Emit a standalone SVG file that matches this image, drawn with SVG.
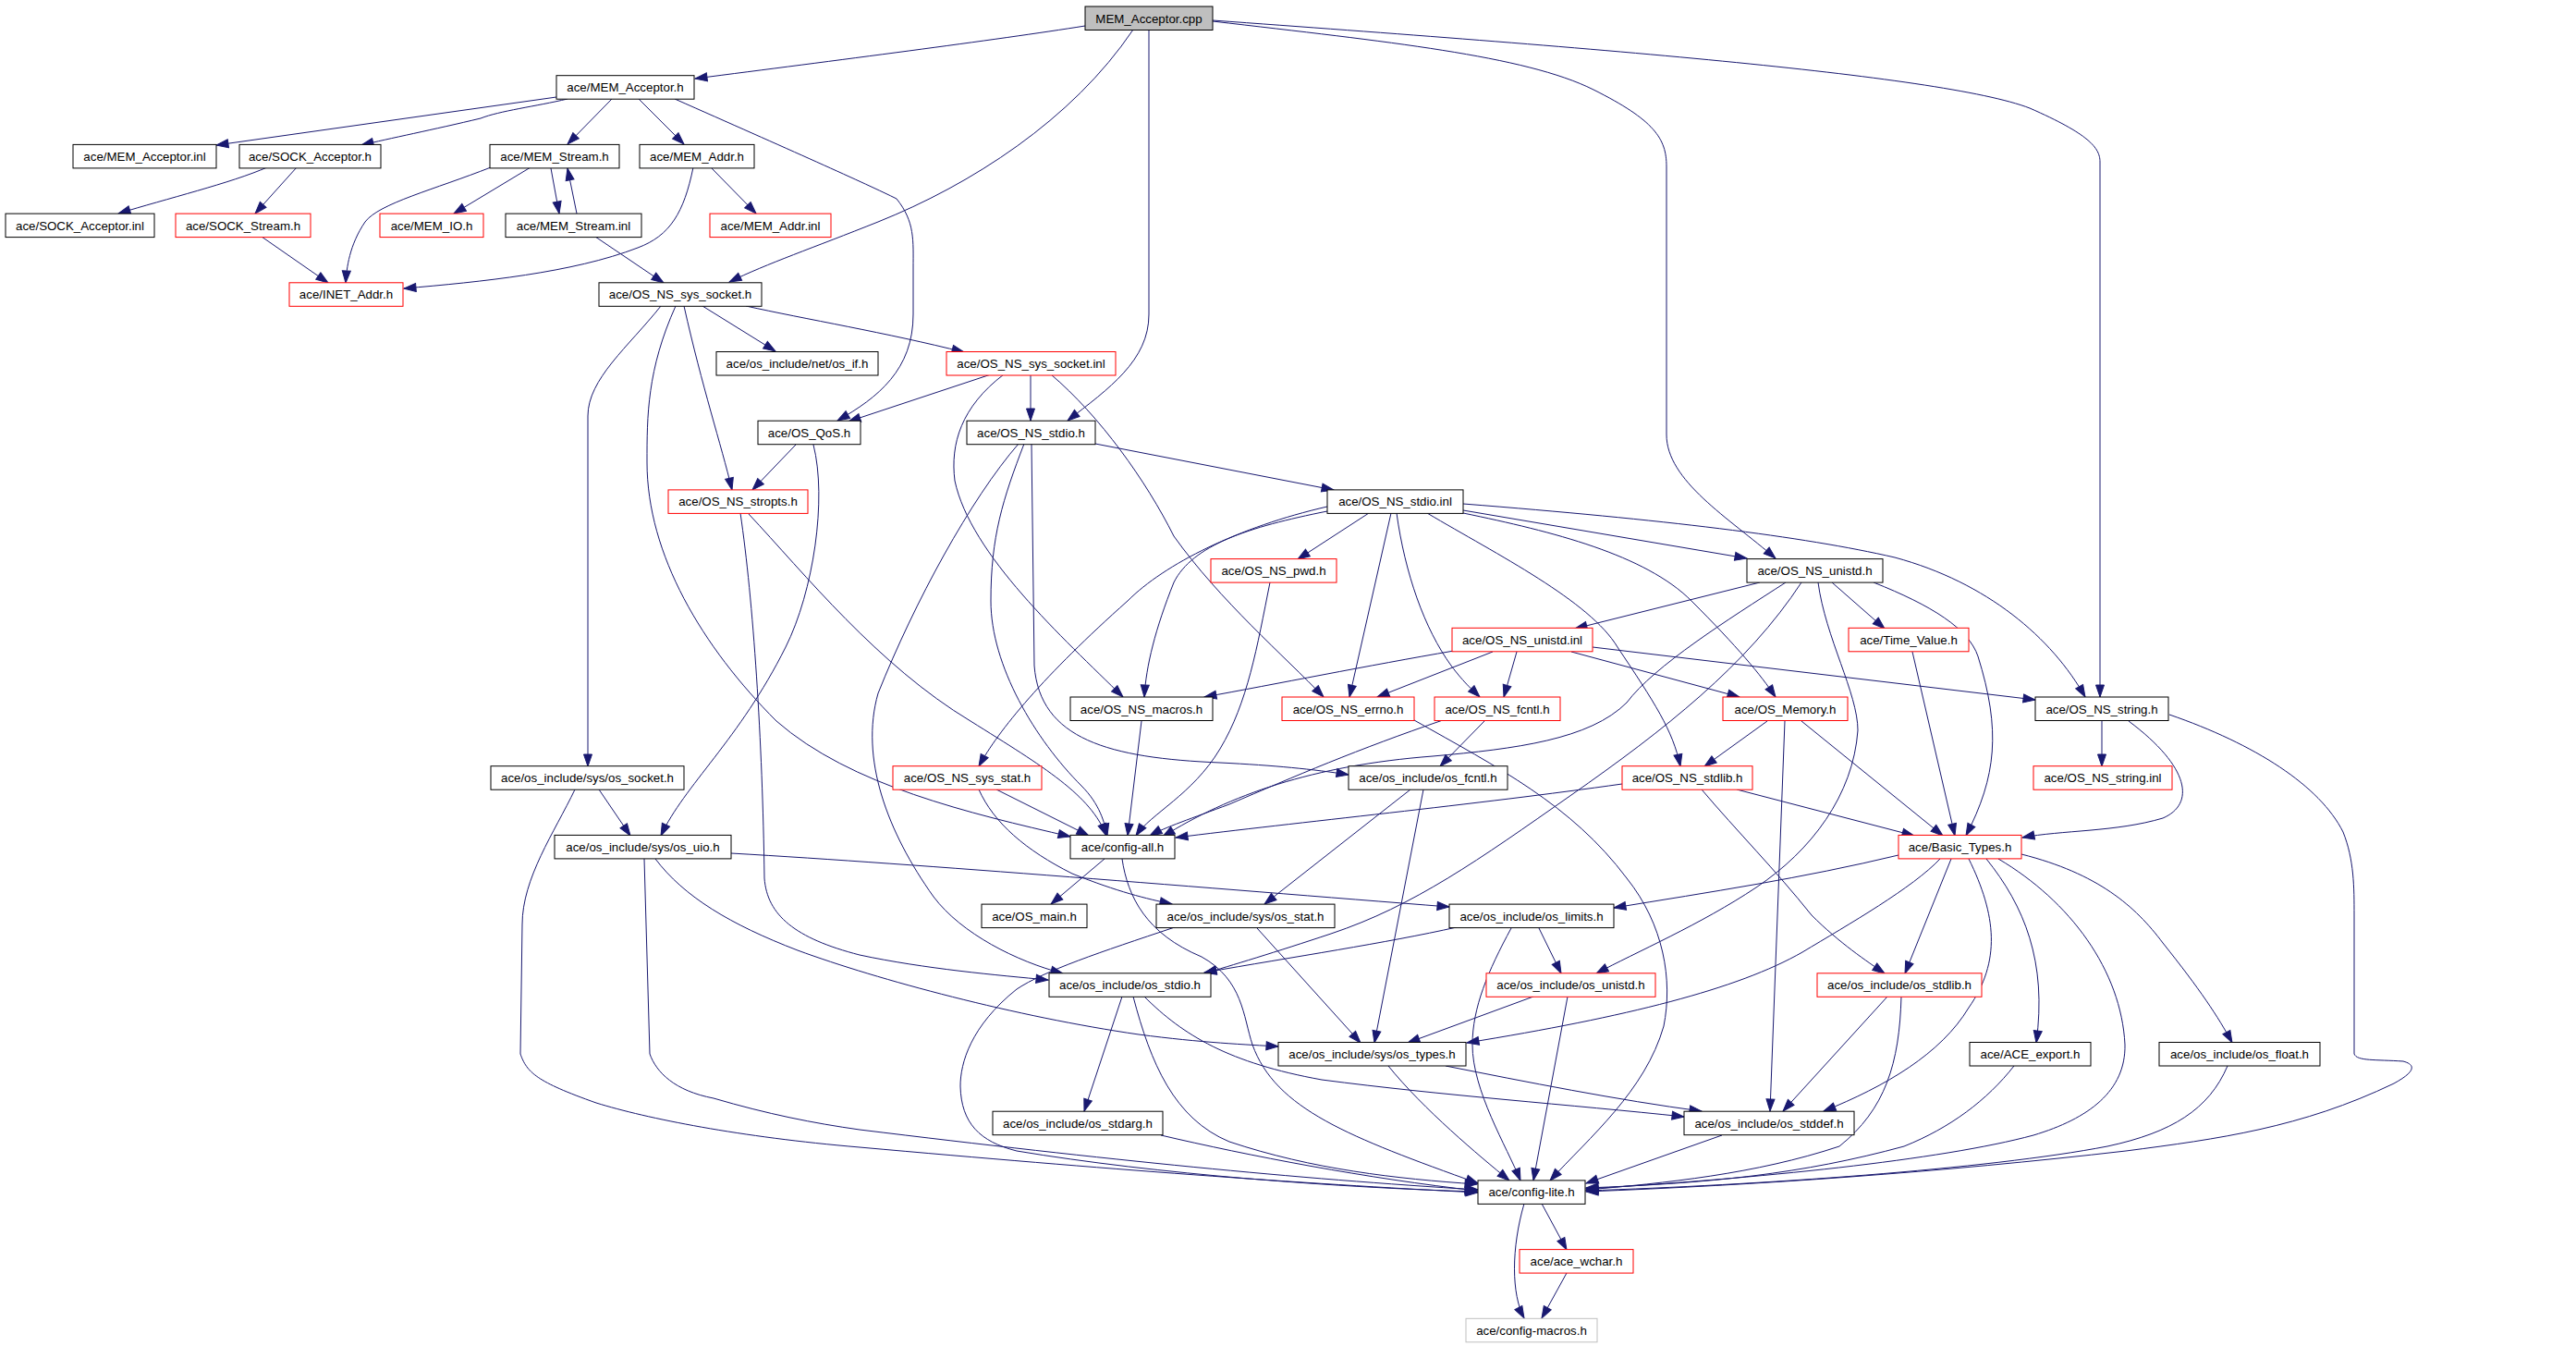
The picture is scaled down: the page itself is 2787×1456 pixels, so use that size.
<svg xmlns="http://www.w3.org/2000/svg" width="2787" height="1456" viewBox="0 0 2787 1456">
<style>
.n rect{fill:#fff;stroke:#000;stroke-width:1}
.n.r rect{stroke:#f00}
.n.g rect{stroke:#bfbfbf}
.n.c rect{fill:#bfbfbf}
.n text{font-family:"Liberation Sans",Arial,Helvetica,sans-serif;font-size:13.3px;text-anchor:middle;fill:#000}
#edges path{fill:none;stroke:#191970;stroke-width:1;marker-end:url(#a)}
</style>
<defs>
<marker id="a" markerUnits="userSpaceOnUse" markerWidth="14" markerHeight="10" refX="13" refY="4.5" orient="auto" overflow="visible">
<path d="M0,0L13,4.5L0,9z" fill="#191970" stroke="#191970" stroke-width="1"/>
</marker>
</defs>
<rect width="2787" height="1456" fill="#fff"/>
<g id="edges">
<path d="M1174,28 C1080,43 900,66 752,85"/>
<path d="M1226,32 C1160,130 1050,200 950,240 C880,268 830,285 789,305"/>
<path d="M1243,32 L1243,340 C1243,390 1200,420 1155,455"/>
<path d="M1312,23 C1500,45 1650,60 1724,97 C1790,130 1803,150 1803,180 L1803,470 C1803,520 1870,560 1921,604"/>
<path d="M1312,22 C1700,50 2100,80 2196,117 C2260,145 2272,160 2272,175 L2272,754"/>
<path d="M602,105 L234,157"/>
<path d="M614,107 C580,115 540,120 520,128 C470,140 420,150 391,157"/>
<path d="M662,107 L614,156"/>
<path d="M691,107 L740,156"/>
<path d="M730,107 C850,160 940,200 970,215 C990,240 988,260 988,290 L988,340 C988,400 950,430 906,455"/>
<path d="M289,181 C250,198 180,215 128,231"/>
<path d="M321,181 L276,231"/>
<path d="M531,181 C470,205 410,220 395,240 C378,265 375,290 374,306"/>
<path d="M574,181 L491,231"/>
<path d="M596,182 L605,231"/>
<path d="M624,231 L614,182"/>
<path d="M644,256 L718,306"/>
<path d="M750,181 C740,230 725,255 690,268 C620,295 520,305 437,312"/>
<path d="M769,181 L818,231"/>
<path d="M283,256 L355,306"/>
<path d="M760,331 L839,380"/>
<path d="M807,331 C870,345 960,360 1043,381"/>
<path d="M715,331 C680,375 636,410 636,450 L636,829"/>
<path d="M740,331 C760,420 780,480 792,530"/>
<path d="M731,331 C700,400 700,450 700,500 C700,600 760,700 840,780 C920,850 1050,880 1158,905"/>
<path d="M861,481 L814,530"/>
<path d="M880,481 C895,540 880,640 850,700 C800,800 740,850 715,904"/>
<path d="M1072,405 L918,456"/>
<path d="M1115,405 L1115,455"/>
<path d="M1086,405 C1040,440 1028,480 1033,520 C1050,600 1150,690 1215,754"/>
<path d="M1137,405 C1190,450 1240,520 1270,580 C1320,650 1390,710 1432,754"/>
<path d="M1185,480 L1443,530"/>
<path d="M1102,480 C1050,540 990,650 950,750 C930,820 960,900 1010,970 C1040,1010 1100,1040 1150,1053"/>
<path d="M1108,480 C1085,540 1072,580 1072,650 C1072,720 1120,800 1170,850 C1190,870 1195,890 1198,904"/>
<path d="M1116,480 L1119,720 C1125,800 1200,820 1320,825 C1380,828 1420,832 1459,838"/>
<path d="M1481,555 L1404,605"/>
<path d="M1436,553 C1350,570 1290,590 1270,630 C1250,680 1240,720 1238,754"/>
<path d="M1436,548 C1340,570 1260,610 1220,650 C1130,730 1080,790 1059,829"/>
<path d="M1505,555 L1460,754"/>
<path d="M1511,555 C1520,620 1541,680 1570,720 C1585,740 1595,748 1601,754"/>
<path d="M1544,555 C1620,600 1720,650 1750,700 C1790,760 1810,790 1818,829"/>
<path d="M1583,555 C1680,575 1780,600 1830,650 C1880,700 1905,730 1921,754"/>
<path d="M1583,552 L1890,604"/>
<path d="M1583,545 C1800,562 1950,580 2050,603 C2150,630 2220,690 2256,754"/>
<path d="M1904,630 L1704,680"/>
<path d="M1932,630 C1870,670 1790,720 1760,760 C1720,800 1640,810 1550,818 C1420,828 1330,860 1258,905"/>
<path d="M1949,630 C1890,720 1800,790 1700,860 C1600,930 1530,980 1440,1010 C1380,1030 1330,1045 1303,1053"/>
<path d="M1967,630 C1975,690 2010,750 2010,790 C2005,860 1960,920 1900,960 C1840,1000 1770,1030 1727,1053"/>
<path d="M1982,630 L2039,680"/>
<path d="M2027,630 C2090,655 2130,680 2140,710 C2165,790 2160,840 2127,904"/>
<path d="M1573,704 C1480,720 1380,740 1303,754"/>
<path d="M1615,705 L1490,754"/>
<path d="M1641,705 L1627,754"/>
<path d="M1723,700 L2202,757"/>
<path d="M1700,705 L1882,754"/>
<path d="M2069,705 L2115,904"/>
<path d="M1235,780 L1220,904"/>
<path d="M1530,779 C1620,830 1700,870 1760,950 C1800,1000 1810,1060 1800,1110 C1780,1180 1720,1230 1677,1277"/>
<path d="M1606,780 L1558,829"/>
<path d="M1561,779 C1470,810 1400,840 1330,870 C1290,885 1260,895 1244,904"/>
<path d="M1374,630 C1360,700 1350,760 1320,810 C1290,860 1245,880 1229,904"/>
<path d="M1912,780 L1844,829"/>
<path d="M1931,780 L1915,1202"/>
<path d="M1949,780 L2102,904"/>
<path d="M2274,780 L2274,829"/>
<path d="M2303,780 C2370,830 2375,870 2340,885 C2290,900 2230,898 2188,906"/>
<path d="M2347,773 C2440,805 2510,850 2535,900 C2547,930 2547,960 2547,990 L2547,1140 C2550,1148 2570,1146 2600,1148 C2615,1152 2612,1160 2590,1172 C2490,1220 2400,1232 2300,1245 C2100,1268 1900,1282 1716,1289"/>
<path d="M1879,854 L2071,904"/>
<path d="M1841,854 C1880,900 1920,940 1960,990 C1990,1020 2020,1040 2039,1053"/>
<path d="M1755,848 C1600,870 1400,890 1272,906"/>
<path d="M2054,925 C1950,950 1850,965 1746,982"/>
<path d="M2099,929 C2070,960 2000,1000 1950,1030 C1880,1070 1760,1100 1587,1128"/>
<path d="M2111,929 L2061,1053"/>
<path d="M2130,929 C2160,990 2165,1040 2130,1090 C2100,1140 2040,1175 1973,1202"/>
<path d="M2149,929 C2190,980 2215,1040 2203,1128"/>
<path d="M2162,929 C2240,975 2295,1050 2299,1130 C2300,1180 2260,1210 2200,1228 C2100,1255 1900,1275 1716,1286"/>
<path d="M2187,924 C2270,945 2310,980 2340,1020 C2380,1070 2400,1100 2415,1128"/>
<path d="M2410,1153 C2390,1200 2350,1225 2280,1240 C2150,1265 1900,1282 1716,1288"/>
<path d="M2179,1153 C2150,1190 2110,1220 2060,1240 C1950,1270 1850,1280 1716,1285"/>
<path d="M2057,1078 C2055,1150 2040,1200 1990,1240 C1900,1270 1800,1280 1716,1287"/>
<path d="M2042,1078 L1929,1202"/>
<path d="M1863,1228 L1716,1280"/>
<path d="M622,854 C600,900 565,950 565,1000 L563,1140 C570,1160 580,1170 645,1193 C700,1210 800,1230 930,1241 C1200,1265 1400,1280 1599,1290"/>
<path d="M697,929 L703,1140 C710,1160 730,1180 772,1188 C830,1205 880,1215 930,1222 C1200,1255 1400,1275 1599,1287"/>
<path d="M709,929 C740,970 790,1000 863,1028 C950,1060 1100,1100 1232,1119 C1300,1128 1350,1130 1383,1132"/>
<path d="M791,923 C1000,935 1300,960 1568,981"/>
<path d="M648,854 L682,904"/>
<path d="M801,555 C815,650 825,800 827,950 C830,990 860,1015 930,1033 C1000,1048 1080,1055 1134,1060"/>
<path d="M810,556 C870,620 950,720 1050,780 C1130,830 1180,860 1197,904"/>
<path d="M1078,854 L1178,904"/>
<path d="M1059,854 C1075,890 1110,920 1160,945 C1210,965 1240,972 1268,978"/>
<path d="M1526,854 L1368,978"/>
<path d="M1540,854 L1487,1128"/>
<path d="M1195,929 L1137,978"/>
<path d="M1214,929 C1220,970 1240,1010 1300,1035 C1345,1060 1345,1100 1355,1130 C1380,1200 1460,1230 1599,1280"/>
<path d="M1271,1003 C1190,1030 1130,1050 1100,1070 C1050,1110 1039,1150 1039,1175 C1040,1215 1060,1235 1100,1245 C1250,1270 1450,1285 1598,1289"/>
<path d="M1360,1004 L1472,1128"/>
<path d="M1576,1003 C1500,1020 1400,1035 1303,1052"/>
<path d="M1635,1004 C1610,1050 1593,1090 1593,1130 C1593,1180 1630,1240 1645,1277"/>
<path d="M1665,1004 L1689,1053"/>
<path d="M1659,1078 L1523,1128"/>
<path d="M1696,1078 L1659,1277"/>
<path d="M1214,1078 L1173,1202"/>
<path d="M1226,1078 C1245,1150 1270,1210 1330,1235 C1420,1265 1510,1275 1598,1281"/>
<path d="M1238,1078 C1280,1120 1330,1150 1430,1168 C1560,1185 1700,1195 1822,1208"/>
<path d="M1502,1153 C1540,1200 1600,1250 1633,1277"/>
<path d="M1564,1153 C1650,1170 1750,1190 1841,1202"/>
<path d="M1256,1228 C1350,1250 1480,1275 1598,1288"/>
<path d="M1668,1302 L1695,1352"/>
<path d="M1649,1302 C1635,1350 1635,1400 1649,1426"/>
<path d="M1695,1377 L1668,1426"/>
</g>
<g id="n0" class="n c"><rect x="1174" y="7" width="138" height="25.5"/><text x="1243" y="24.5">MEM_Acceptor.cpp</text></g>
<g id="n1" class="n"><rect x="602" y="81.7" width="149" height="25.5"/><text x="676.5" y="99.2">ace/MEM_Acceptor.h</text></g>
<g id="n2" class="n"><rect x="79" y="156.4" width="155" height="25.5"/><text x="156.5" y="173.9">ace/MEM_Acceptor.inl</text></g>
<g id="n3" class="n"><rect x="259" y="156.4" width="153" height="25.5"/><text x="335.5" y="173.9">ace/SOCK_Acceptor.h</text></g>
<g id="n4" class="n"><rect x="530" y="156.4" width="140" height="25.5"/><text x="600" y="173.9">ace/MEM_Stream.h</text></g>
<g id="n5" class="n"><rect x="692" y="156.4" width="124" height="25.5"/><text x="754" y="173.9">ace/MEM_Addr.h</text></g>
<g id="n6" class="n"><rect x="6" y="231.1" width="161" height="25.5"/><text x="86.5" y="248.6">ace/SOCK_Acceptor.inl</text></g>
<g id="n7" class="n r"><rect x="190" y="231.1" width="146" height="25.5"/><text x="263" y="248.6">ace/SOCK_Stream.h</text></g>
<g id="n8" class="n r"><rect x="411" y="231.1" width="112" height="25.5"/><text x="467" y="248.6">ace/MEM_IO.h</text></g>
<g id="n9" class="n"><rect x="547" y="231.1" width="147" height="25.5"/><text x="620.5" y="248.6">ace/MEM_Stream.inl</text></g>
<g id="n10" class="n r"><rect x="768" y="231.1" width="131" height="25.5"/><text x="833.5" y="248.6">ace/MEM_Addr.inl</text></g>
<g id="n11" class="n r"><rect x="313" y="305.8" width="123" height="25.5"/><text x="374.5" y="323.3">ace/INET_Addr.h</text></g>
<g id="n12" class="n"><rect x="648" y="305.8" width="176" height="25.5"/><text x="736" y="323.3">ace/OS_NS_sys_socket.h</text></g>
<g id="n13" class="n"><rect x="775" y="380.5" width="175" height="25.5"/><text x="862.5" y="398">ace/os_include/net/os_if.h</text></g>
<g id="n14" class="n r"><rect x="1024" y="380.5" width="183" height="25.5"/><text x="1115.5" y="398">ace/OS_NS_sys_socket.inl</text></g>
<g id="n15" class="n"><rect x="820" y="455.2" width="111" height="25.5"/><text x="875.5" y="472.7">ace/OS_QoS.h</text></g>
<g id="n16" class="n"><rect x="1046" y="455.2" width="139" height="25.5"/><text x="1115.5" y="472.7">ace/OS_NS_stdio.h</text></g>
<g id="n17" class="n r"><rect x="723" y="529.9" width="151" height="25.5"/><text x="798.5" y="547.4">ace/OS_NS_stropts.h</text></g>
<g id="n18" class="n"><rect x="1436" y="529.9" width="147" height="25.5"/><text x="1509.5" y="547.4">ace/OS_NS_stdio.inl</text></g>
<g id="n19" class="n r"><rect x="1310" y="604.6" width="136" height="25.5"/><text x="1378" y="622.1">ace/OS_NS_pwd.h</text></g>
<g id="n20" class="n"><rect x="1890" y="604.6" width="147" height="25.5"/><text x="1963.5" y="622.1">ace/OS_NS_unistd.h</text></g>
<g id="n21" class="n r"><rect x="1571" y="679.3" width="152" height="25.5"/><text x="1647" y="696.8">ace/OS_NS_unistd.inl</text></g>
<g id="n22" class="n r"><rect x="2000" y="679.3" width="130" height="25.5"/><text x="2065" y="696.8">ace/Time_Value.h</text></g>
<g id="n23" class="n"><rect x="1158" y="754" width="154" height="25.5"/><text x="1235" y="771.5">ace/OS_NS_macros.h</text></g>
<g id="n24" class="n r"><rect x="1387" y="754" width="143" height="25.5"/><text x="1458.5" y="771.5">ace/OS_NS_errno.h</text></g>
<g id="n25" class="n r"><rect x="1552" y="754" width="136" height="25.5"/><text x="1620" y="771.5">ace/OS_NS_fcntl.h</text></g>
<g id="n26" class="n r"><rect x="1864" y="754" width="135" height="25.5"/><text x="1931.5" y="771.5">ace/OS_Memory.h</text></g>
<g id="n27" class="n"><rect x="2202" y="754" width="144" height="25.5"/><text x="2274" y="771.5">ace/OS_NS_string.h</text></g>
<g id="n28" class="n"><rect x="531" y="828.7" width="209" height="25.5"/><text x="635.5" y="846.2">ace/os_include/sys/os_socket.h</text></g>
<g id="n29" class="n r"><rect x="966" y="828.7" width="161" height="25.5"/><text x="1046.5" y="846.2">ace/OS_NS_sys_stat.h</text></g>
<g id="n30" class="n"><rect x="1459" y="828.7" width="172" height="25.5"/><text x="1545" y="846.2">ace/os_include/os_fcntl.h</text></g>
<g id="n31" class="n r"><rect x="1755" y="828.7" width="141" height="25.5"/><text x="1825.5" y="846.2">ace/OS_NS_stdlib.h</text></g>
<g id="n32" class="n r"><rect x="2200" y="828.7" width="150" height="25.5"/><text x="2275" y="846.2">ace/OS_NS_string.inl</text></g>
<g id="n33" class="n"><rect x="600" y="903.4" width="191" height="25.5"/><text x="695.5" y="920.9">ace/os_include/sys/os_uio.h</text></g>
<g id="n34" class="n"><rect x="1158" y="903.4" width="113" height="25.5"/><text x="1214.5" y="920.9">ace/config-all.h</text></g>
<g id="n35" class="n r"><rect x="2054" y="903.4" width="133" height="25.5"/><text x="2120.5" y="920.9">ace/Basic_Types.h</text></g>
<g id="n36" class="n"><rect x="1062" y="978.1" width="114" height="25.5"/><text x="1119" y="995.6">ace/OS_main.h</text></g>
<g id="n37" class="n"><rect x="1251" y="978.1" width="193" height="25.5"/><text x="1347.5" y="995.6">ace/os_include/sys/os_stat.h</text></g>
<g id="n38" class="n"><rect x="1568" y="978.1" width="178" height="25.5"/><text x="1657" y="995.6">ace/os_include/os_limits.h</text></g>
<g id="n39" class="n"><rect x="1135" y="1052.8" width="175" height="25.5"/><text x="1222.5" y="1070.3">ace/os_include/os_stdio.h</text></g>
<g id="n40" class="n r"><rect x="1608" y="1052.8" width="183" height="25.5"/><text x="1699.5" y="1070.3">ace/os_include/os_unistd.h</text></g>
<g id="n41" class="n r"><rect x="1966" y="1052.8" width="178" height="25.5"/><text x="2055" y="1070.3">ace/os_include/os_stdlib.h</text></g>
<g id="n42" class="n"><rect x="1383" y="1127.5" width="203" height="25.5"/><text x="1484.5" y="1145">ace/os_include/sys/os_types.h</text></g>
<g id="n43" class="n"><rect x="2131" y="1127.5" width="131" height="25.5"/><text x="2196.5" y="1145">ace/ACE_export.h</text></g>
<g id="n44" class="n"><rect x="2336" y="1127.5" width="174" height="25.5"/><text x="2423" y="1145">ace/os_include/os_float.h</text></g>
<g id="n45" class="n"><rect x="1074" y="1202.2" width="184" height="25.5"/><text x="1166" y="1219.7">ace/os_include/os_stdarg.h</text></g>
<g id="n46" class="n"><rect x="1822" y="1202.2" width="184" height="25.5"/><text x="1914" y="1219.7">ace/os_include/os_stddef.h</text></g>
<g id="n47" class="n"><rect x="1599" y="1276.9" width="116" height="25.5"/><text x="1657" y="1294.4">ace/config-lite.h</text></g>
<g id="n48" class="n r"><rect x="1644" y="1351.6" width="123" height="25.5"/><text x="1705.5" y="1369.1">ace/ace_wchar.h</text></g>
<g id="n49" class="n g"><rect x="1586" y="1426.3" width="142" height="25.5"/><text x="1657" y="1443.8">ace/config-macros.h</text></g>
</svg>
